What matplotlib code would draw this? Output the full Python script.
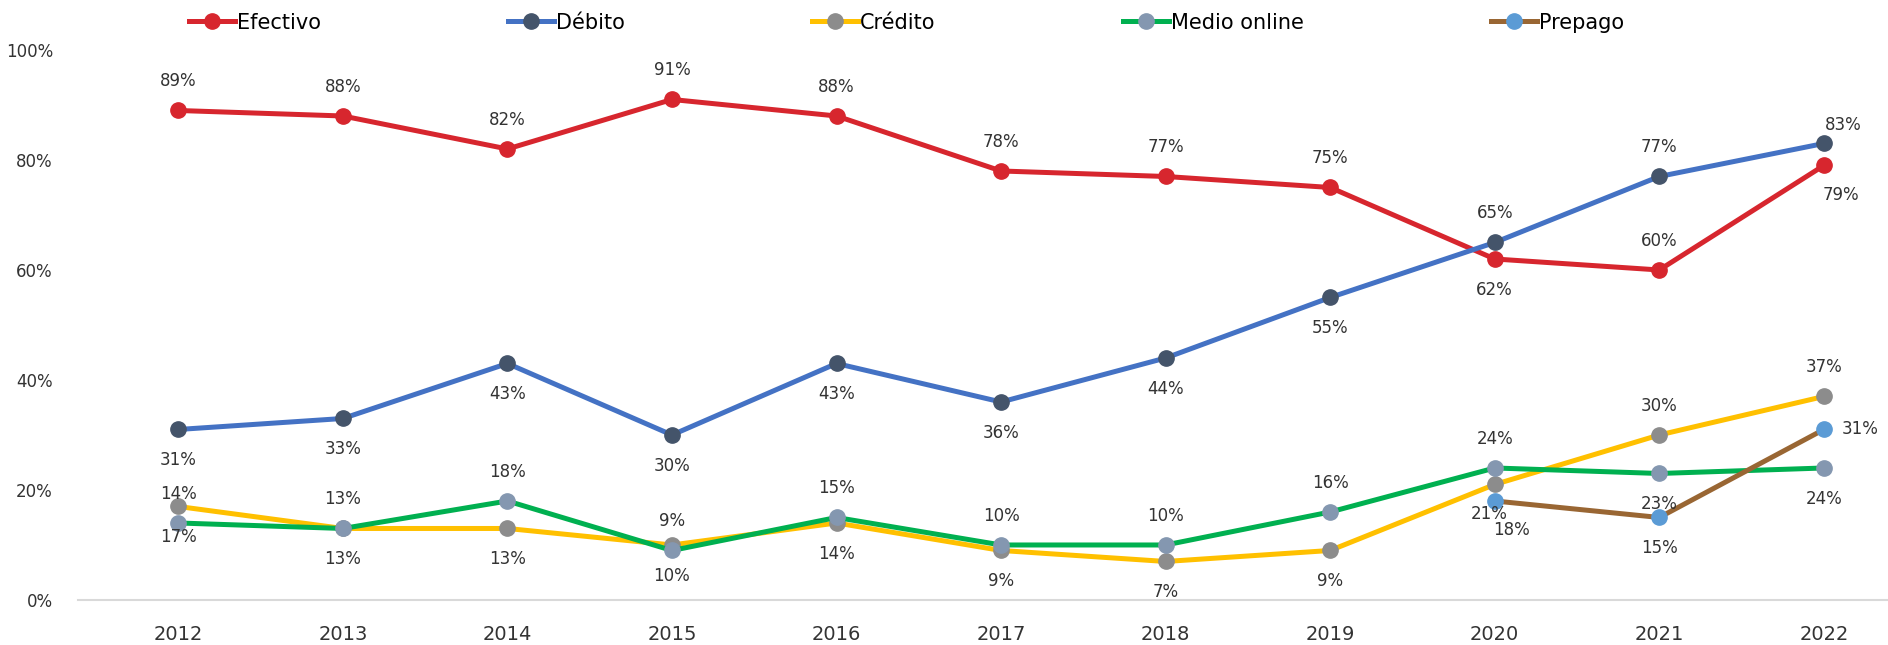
import matplotlib
matplotlib.use("Agg")
import matplotlib.pyplot as plt

plt.rcParams['font.family'] = ['Liberation Sans Narrow', 'DejaVu Sans']

years = [2012, 2013, 2014, 2015, 2016, 2017, 2018, 2019, 2020, 2021, 2022]

efectivo = [89, 88, 82, 91, 88, 78, 77, 75, 62, 60, 79]
debito = [31, 33, 43, 30, 43, 36, 44, 55, 65, 77, 83]
credito = [17, 13, 13, 10, 14, 9, 7, 9, 21, 30, 37]
online = [14, 13, 18, 9, 15, 10, 10, 16, 24, 23, 24]
prepago_years = [2020, 2021, 2022]
prepago = [18, 15, 31]

# where each data label sits relative to its point
pos_efectivo = ['a'] * 8 + ['b', 'a', 'br']
pos_debito = ['b'] * 8 + ['a', 'a', 'ar']
pos_credito = ['b'] * 8 + ['bl', 'a', 'a']
pos_online = ['a'] * 9 + ['b', 'b']
pos_prepago = ['br', 'b', 'r']

offsets = {
    'a': (0, 21), 'b': (0, -22), 'r': (26, 0),
    'br': (12, -21), 'ar': (14, 13), 'bl': (-4, -21),
}

series = [
    ("Efectivo", years, efectivo, "#D7262E", "#D7262E", pos_efectivo),
    ("Débito", years, debito, "#4472C4", "#44546A", pos_debito),
    ("Crédito", years, credito, "#FFC000", "#8C8C8C", pos_credito),
    ("Medio online", years, online, "#00B050", "#8497B0", pos_online),
    ("Prepago", prepago_years, prepago, "#996633", "#5B9BD5", pos_prepago),
]

fig = plt.figure(figsize=(18.88, 6.45), dpi=100)
ax = fig.add_axes([0.0413, 0.0698, 0.9587, 0.8527])

for name, xs, ys, col, mcol, pos in series:
    ax.plot(xs, ys, color=col, lw=3.6, marker='o', markersize=11,
            markerfacecolor=mcol, markeredgecolor=mcol, label=name)
    for x, y, p in zip(xs, ys, pos):
        ax.annotate(f"{y}%", (x, y), xytext=offsets[p], textcoords='offset points',
                    ha='center', va='center', fontsize=12, color='#333333')

ax.set_xlim(2011.39, 2022.39)
ax.set_ylim(0, 100)
ax.set_xticks(years)
ax.set_yticks([0, 20, 40, 60, 80, 100])
ax.set_yticklabels([f"{v}%" for v in [0, 20, 40, 60, 80, 100]])
ax.tick_params(axis='x', length=0, pad=18, labelsize=14, colors='#333333')
ax.tick_params(axis='y', length=0, pad=18, labelsize=12, colors='#333333')

for s in ['top', 'right', 'left']:
    ax.spines[s].set_visible(False)
ax.spines['bottom'].set_color('#D9D9D9')
ax.spines['bottom'].set_linewidth(1.5)

fig.legend(loc='center', bbox_to_anchor=(0.09, 0.935, 0.78, 0.06), mode='expand',
           ncol=5, frameon=False, fontsize=15, handlelength=2.2, handletextpad=0.1,
           markerscale=1.0)

fig.savefig("out.png", dpi=100)
